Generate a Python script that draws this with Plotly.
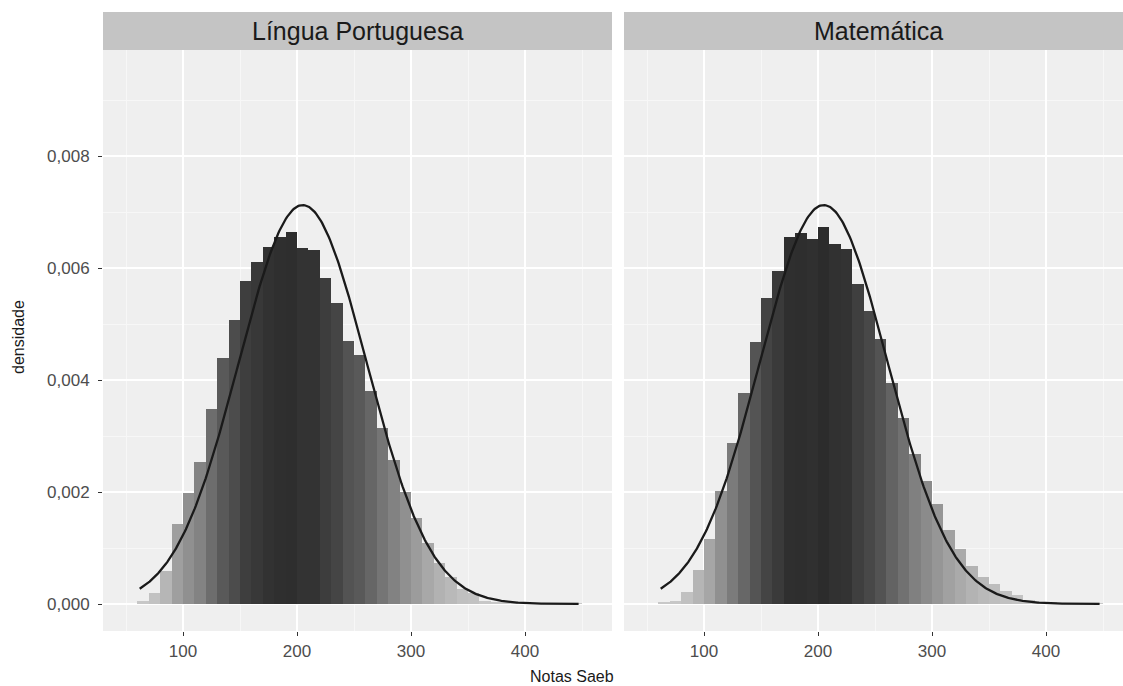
import numpy as np
import plotly.graph_objects as go

# ---------------- data ----------------
bin_centers = [65, 75, 85, 95, 105, 115, 125, 135, 145, 155, 165, 175, 185, 195,
               205, 215, 225, 235, 245, 255, 265, 275, 285, 295, 305, 315, 325,
               335, 345, 355, 365, 375, 385, 395, 405, 415, 425, 435, 445]
bin_width = 10

dens_lp = [0.00005, 0.00019, 0.00059, 0.00142, 0.00199, 0.00253, 0.00349, 0.00440,
           0.00507, 0.00576, 0.00610, 0.00638, 0.00655, 0.00664, 0.00636, 0.00633,
           0.00582, 0.00538, 0.00470, 0.00444, 0.00380, 0.00314, 0.00257, 0.00200,
           0.00154, 0.00109, 0.00073, 0.00048, 0.00026, 0.00019, 0.00005, 0.00003,
           0.00002, 0.00001, 0.00001, 0.000005, 0.000005, 0.000005, 0.000005]

dens_mat = [0.00002, 0.00006, 0.00021, 0.00061, 0.00116, 0.00201, 0.00288, 0.00376,
            0.00468, 0.00546, 0.00595, 0.00656, 0.00662, 0.00652, 0.00673, 0.00643,
            0.00634, 0.00572, 0.00524, 0.00473, 0.00394, 0.00333, 0.00267, 0.00220,
            0.00178, 0.00133, 0.00099, 0.00068, 0.00049, 0.00036, 0.00023, 0.00016,
            0.00007, 0.00004, 0.00002, 0.00001, 0.000005, 0.000005, 0.000005]

panel_titles = ["Língua Portuguesa", "Matemática"]

# normal curve parameters (stat_function dnorm)
curve_mean = 205.0
curve_sd = 56.0
curve_xmin = 62.0
curve_xmax = 447.0

x_tickvals = [100, 200, 300, 400]
x_minor = [50, 150, 250, 350, 450]
y_tickvals = [0.000, 0.002, 0.004, 0.006, 0.008]
y_ticktext = ["0,000", "0,002", "0,004", "0,006", "0,008"]
y_minor = [0.001, 0.003, 0.005, 0.007, 0.009]

x_title = "Notas Saeb"
y_title = "densidade"


# ---------------- helpers ----------------
def lab_grey(L):
    fy = (L + 16.0) / 116.0
    Y = fy ** 3 if fy ** 3 > 0.008856 else (L / 903.3)
    c = 12.92 * Y if Y <= 0.0031308 else 1.055 * Y ** (1 / 2.4) - 0.055
    v = int(round(max(0, min(1, c)) * 255))
    return f"rgb({v},{v},{v})"


dmax = max(max(dens_lp), max(dens_mat))


def fill_colors(vals):
    out = []
    for d in vals:
        t = d / dmax
        L = 81.0 - 63.0 * (t ** 0.9)
        out.append(lab_grey(L))
    return out


curve_x = np.linspace(curve_xmin, curve_xmax, 400)
curve_y = np.exp(-0.5 * ((curve_x - curve_mean) / curve_sd) ** 2) / (curve_sd * np.sqrt(2 * np.pi))

# ---------------- figure ----------------
FONT = "Liberation Sans, Arial, Helvetica, sans-serif"
W, H = 1123, 686
ML, MR, MT, MB = 103, 0, 50, 55
PW = W - ML - MR
PH = H - MT - MB

left_dom = [0, 509 / PW]
right_dom = [521 / PW, 1]
px_per_unit = 1.14
x0 = 29.8
left_range = [x0, x0 + 509 / px_per_unit]
right_range = [x0, x0 + (PW - 521) / px_per_unit]
y_range = [-(631 - 604) / 56000.0, (604 - 50) / 56000.0]

fig = go.Figure()

for i, dens in enumerate([dens_lp, dens_mat]):
    xa = "x" if i == 0 else "x2"
    ya = "y" if i == 0 else "y2"
    fig.add_trace(go.Bar(
        x=bin_centers, y=dens, width=bin_width,
        marker=dict(color=fill_colors(dens), line=dict(width=0)),
        xaxis=xa, yaxis=ya, showlegend=False, hoverinfo="x+y",
    ))
    fig.add_trace(go.Scatter(
        x=curve_x, y=curve_y, mode="lines",
        line=dict(color="#1a1a1a", width=2.3),
        xaxis=xa, yaxis=ya, showlegend=False, hoverinfo="skip",
    ))

axis_common = dict(
    showline=False, zeroline=False,
    ticks="outside", ticklen=4, tickwidth=1.1, tickcolor="#333333",
    tickfont=dict(family=FONT, size=17, color="#4d4d4d"),
    showgrid=True, gridcolor="white", gridwidth=1.7,
)

fig.update_layout(
    width=W, height=H, autosize=False,
    margin=dict(l=ML, r=MR, t=MT, b=MB),
    paper_bgcolor="white", plot_bgcolor="#efefef",
    bargap=0, barmode="overlay",
    font=dict(family=FONT),
    xaxis=dict(domain=left_dom, range=left_range, tickvals=x_tickvals, anchor="y",
               ticklabelstandoff=1,
               minor=dict(tickvals=x_minor, showgrid=True, gridcolor="#f7f7f7", gridwidth=0.9, ticks=""),
               **axis_common),
    xaxis2=dict(domain=right_dom, range=right_range, tickvals=x_tickvals, anchor="y2",
                ticklabelstandoff=1,
                minor=dict(tickvals=x_minor, showgrid=True, gridcolor="#f7f7f7", gridwidth=0.9, ticks=""),
                **axis_common),
    yaxis=dict(domain=[0, 1], range=y_range, tickvals=y_tickvals, ticktext=y_ticktext, anchor="x",
               ticklabelstandoff=5,
               minor=dict(tickvals=y_minor, showgrid=True, gridcolor="#f7f7f7", gridwidth=0.9, ticks=""),
               **axis_common),
    yaxis2=dict(domain=[0, 1], range=y_range, tickvals=y_tickvals, anchor="x2",
                showticklabels=False, ticks="", showline=False, zeroline=False,
                showgrid=True, gridcolor="white", gridwidth=1.7,
                minor=dict(tickvals=y_minor, showgrid=True, gridcolor="#f7f7f7", gridwidth=0.9, ticks="")),
)

# strips
strip_h = 38 / PH
for dom, title, cx_px in [(left_dom, panel_titles[0], (103 + 612) / 2),
                          (right_dom, panel_titles[1], (624 + 1133) / 2)]:
    fig.add_shape(type="rect", xref="paper", yref="paper",
                  x0=dom[0], x1=dom[1], y0=1, y1=1 + strip_h,
                  fillcolor="#c4c4c4", line=dict(width=0), layer="below")
    fig.add_annotation(x=(cx_px - ML) / PW, y=1 + strip_h / 2, xref="paper", yref="paper",
                       text=title, showarrow=False, xanchor="center", yanchor="middle",
                       font=dict(family=FONT, size=25, color="#1a1a1a"))

# axis titles
fig.add_annotation(x=(572 - ML) / PW, y=(H - MB - 676) / PH, xref="paper", yref="paper",
                   text=x_title, showarrow=False, xanchor="center", yanchor="middle",
                   font=dict(family=FONT, size=16, color="#1a1a1a"))
fig.add_annotation(x=(18 - ML) / PW, y=(H - MB - 337) / PH, xref="paper", yref="paper",
                   text=y_title, showarrow=False, textangle=-90, xanchor="center", yanchor="middle",
                   font=dict(family=FONT, size=16, color="#1a1a1a"))

fig.write_html("out.html")
